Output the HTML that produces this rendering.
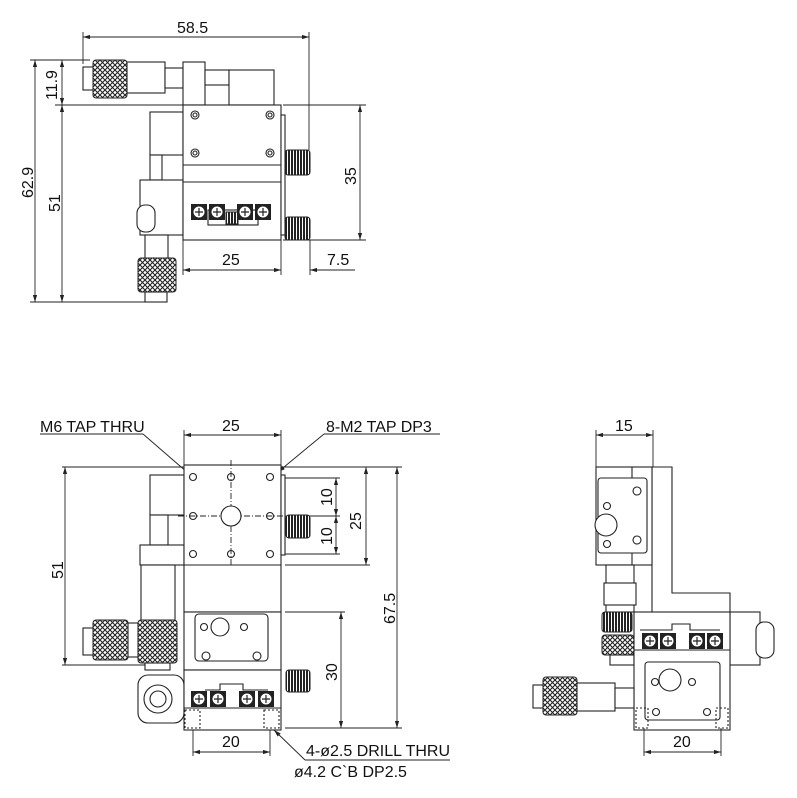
<!DOCTYPE html>
<html><head><meta charset="utf-8"><style>
html,body{margin:0;padding:0;background:#fff}
svg{display:block}
text{font-family:"Liberation Sans",sans-serif;font-size:16px;fill:#111}
.o{fill:none;stroke:#222;stroke-width:1.1}
.w{fill:#fff;stroke:#222;stroke-width:1.1}
.d{fill:none;stroke:#222;stroke-width:0.9}
.k{fill:url(#kn);stroke:#222;stroke-width:1}
.g{fill:url(#gr);stroke:#222;stroke-width:1}
</style></head><body>
<svg width="797" height="798" viewBox="0 0 797 798" xmlns="http://www.w3.org/2000/svg">
<defs>
<pattern id="kn" width="5" height="5" patternUnits="userSpaceOnUse"><rect width="5" height="5" fill="#fff"/><path d="M0 0L5 5M5 0L0 5" stroke="#222" stroke-width="1.1"/></pattern>
<pattern id="gr" width="3" height="3" patternUnits="userSpaceOnUse"><rect width="3" height="3" fill="#fff"/><rect width="2" height="3" fill="#222"/></pattern>
<marker id="a" viewBox="0 0 10 6" refX="10" refY="3" markerWidth="8" markerHeight="5" orient="auto-start-reverse"><path d="M0 0L10 3L0 6z" fill="#222"/></marker>
<g id="scr"><rect x="-8" y="-8" width="16" height="16" fill="#222"/><circle r="6" fill="#fff" stroke="#222"/><path d="M-4 0H4M0-4V4" stroke="#222" stroke-width="1.2"/></g>
</defs>

<!-- ============ TOP VIEW ============ -->
<line class="d" x1="83" y1="37" x2="309" y2="37" marker-start="url(#a)" marker-end="url(#a)"/>
<text x="177" y="33">58.5</text>
<line class="d" x1="83" y1="32" x2="83" y2="64"/>
<line class="d" x1="309" y1="32" x2="309" y2="150"/>
<line class="d" x1="30" y1="60" x2="90" y2="60"/>
<line class="d" x1="55" y1="105" x2="183" y2="105"/>
<line class="d" x1="30" y1="302" x2="145" y2="302"/>
<line class="d" x1="35" y1="60" x2="35" y2="302" marker-start="url(#a)" marker-end="url(#a)"/>
<line class="d" x1="62" y1="60" x2="62" y2="105" marker-start="url(#a)" marker-end="url(#a)"/>
<line class="d" x1="62" y1="105" x2="62" y2="302" marker-start="url(#a)" marker-end="url(#a)"/>
<text transform="translate(33,198) rotate(-90)">62.9</text>
<text transform="translate(57,100) rotate(-90)">11.9</text>
<text transform="translate(60,212) rotate(-90)">51</text>
<line class="d" x1="283" y1="105" x2="366" y2="105"/>
<line class="d" x1="283" y1="240" x2="366" y2="240"/>
<line class="d" x1="360" y1="105" x2="360" y2="240" marker-start="url(#a)" marker-end="url(#a)"/>
<text transform="translate(356,185) rotate(-90)">35</text>
<line class="d" x1="183" y1="240" x2="183" y2="275"/>
<line class="d" x1="281" y1="240" x2="281" y2="275"/>
<line class="d" x1="310" y1="240" x2="310" y2="275"/>
<line class="d" x1="183" y1="270" x2="281" y2="270" marker-start="url(#a)" marker-end="url(#a)"/>
<line class="d" x1="310" y1="270" x2="355" y2="270" marker-start="url(#a)"/>
<text x="222" y="265">25</text>
<text x="327" y="265">7.5</text>
<rect class="w" x="83" y="67" width="11" height="23"/>
<rect class="k" x="93" y="60" width="34" height="38" rx="3"/>
<rect class="w" x="127" y="62" width="38" height="31"/>
<rect class="w" x="165" y="68" width="18" height="20"/>
<rect class="w" x="183" y="62" width="22" height="43"/>
<rect class="w" x="205" y="70" width="24" height="15"/>
<rect class="w" x="229" y="70" width="45" height="35"/>
<rect class="w" x="150" y="112" width="33" height="43"/>
<rect class="w" x="150" y="155" width="12" height="25"/>
<rect class="w" x="140" y="180" width="43" height="55"/>
<rect class="w" x="137" y="205" width="18" height="27" rx="8"/>
<rect class="w" x="183" y="105" width="98" height="135"/>
<rect class="w" x="281" y="115" width="4" height="120"/>
<line class="o" x1="183" y1="165" x2="281" y2="165"/>
<line class="o" x1="183" y1="182" x2="281" y2="182"/>
<g class="o"><circle cx="195" cy="115" r="4"/><circle cx="195" cy="115" r="2"/><circle cx="270" cy="115" r="4"/><circle cx="270" cy="115" r="2"/><circle cx="195" cy="153" r="4"/><circle cx="195" cy="153" r="2"/><circle cx="270" cy="153" r="4"/><circle cx="270" cy="153" r="2"/></g>
<rect class="w" x="208" y="210" width="50" height="15"/>
<rect class="g" x="226" y="212" width="12" height="12"/>
<use href="#scr" x="199" y="212"/><use href="#scr" x="217" y="212"/><use href="#scr" x="245" y="212"/><use href="#scr" x="263" y="212"/>
<rect class="g" x="285" y="150" width="25" height="25" rx="3"/>
<rect class="g" x="285" y="217" width="25" height="23" rx="3"/>
<rect class="w" x="145" y="235" width="23" height="25"/>
<rect class="k" x="138" y="258" width="38" height="34" rx="3"/>
<rect class="w" x="145" y="292" width="22" height="10"/>

<!-- ============ FRONT VIEW ============ -->
<text x="40" y="432">M6 TAP THRU</text>
<line class="d" x1="40" y1="434" x2="143" y2="434"/>
<line class="d" x1="143" y1="434" x2="225" y2="505" marker-end="url(#a)"/>
<text x="326" y="432">8-M2 TAP DP3</text>
<line class="d" x1="324" y1="434" x2="440" y2="434"/>
<line class="d" x1="324" y1="434" x2="278" y2="472" marker-end="url(#a)"/>
<line class="d" x1="184" y1="430" x2="184" y2="467"/>
<line class="d" x1="281" y1="430" x2="281" y2="467"/>
<line class="d" x1="184" y1="435" x2="281" y2="435" marker-start="url(#a)" marker-end="url(#a)"/>
<text x="222" y="431">25</text>
<line class="d" x1="62" y1="467" x2="184" y2="467"/>
<line class="d" x1="62" y1="665" x2="145" y2="665"/>
<line class="d" x1="65" y1="467" x2="65" y2="665" marker-start="url(#a)" marker-end="url(#a)"/>
<text transform="translate(63,579) rotate(-90)">51</text>
<line class="d" x1="281" y1="467" x2="402" y2="467"/>
<line class="d" x1="285" y1="728" x2="402" y2="728"/>
<line class="d" x1="397" y1="467" x2="397" y2="728" marker-start="url(#a)" marker-end="url(#a)"/>
<text transform="translate(395,624) rotate(-90)">67.5</text>
<line class="d" x1="285" y1="565" x2="370" y2="565"/>
<line class="d" x1="366" y1="467" x2="366" y2="565" marker-start="url(#a)" marker-end="url(#a)"/>
<text transform="translate(361,530) rotate(-90)">25</text>
<line class="d" x1="285" y1="478" x2="340" y2="478"/>
<line class="d" x1="285" y1="516" x2="340" y2="516"/>
<line class="d" x1="285" y1="554" x2="340" y2="554"/>
<line class="d" x1="336" y1="478" x2="336" y2="516" marker-start="url(#a)" marker-end="url(#a)"/>
<line class="d" x1="336" y1="516" x2="336" y2="554" marker-start="url(#a)" marker-end="url(#a)"/>
<text transform="translate(332,506) rotate(-90)">10</text>
<text transform="translate(332,545) rotate(-90)">10</text>
<line class="d" x1="193" y1="554" x2="193" y2="598"/>
<line class="d" x1="231" y1="554" x2="231" y2="598"/>
<line class="d" x1="270" y1="554" x2="270" y2="598"/>
<line class="d" x1="193" y1="594" x2="231" y2="594" marker-start="url(#a)" marker-end="url(#a)"/>
<line class="d" x1="231" y1="594" x2="270" y2="594" marker-start="url(#a)" marker-end="url(#a)"/>
<text x="203" y="589">10</text><text x="241" y="589">10</text>
<line class="d" x1="285" y1="612" x2="345" y2="612"/>
<line class="d" x1="341" y1="612" x2="341" y2="728" marker-start="url(#a)" marker-end="url(#a)"/>
<text transform="translate(337,681) rotate(-90)">30</text>
<line class="d" x1="193" y1="728" x2="193" y2="756"/>
<line class="d" x1="270" y1="728" x2="270" y2="756"/>
<line class="d" x1="193" y1="752" x2="270" y2="752" marker-start="url(#a)" marker-end="url(#a)"/>
<text x="222" y="747">20</text>
<line class="d" x1="305" y1="760" x2="274" y2="730" marker-end="url(#a)"/>
<line class="d" x1="305" y1="760" x2="450" y2="760"/>
<text x="306" y="756">4-ø2.5 DRILL THRU</text>
<text x="294" y="777">ø4.2 C`B DP2.5</text>
<rect class="w" x="150" y="475" width="34" height="40"/>
<rect class="w" x="150" y="515" width="18" height="30"/>
<rect class="w" x="140" y="545" width="44" height="20"/>
<rect class="w" x="141" y="565" width="34" height="57"/>
<rect class="w" x="83" y="628" width="11" height="27"/>
<rect class="k" x="93" y="620" width="35" height="40" rx="3"/>
<rect class="w" x="128" y="623" width="10" height="34"/>
<rect class="k" x="138" y="620" width="39" height="43" rx="3"/>
<rect class="w" x="145" y="663" width="25" height="7"/>
<rect class="w" x="138" y="675" width="46" height="48" rx="10"/>
<circle class="o" cx="158" cy="699" r="14"/>
<circle class="o" cx="158" cy="699" r="8"/>
<rect class="w" x="184" y="465" width="97" height="147"/>
<rect class="w" x="281" y="475" width="4" height="80"/>
<line class="d" x1="231" y1="460" x2="231" y2="565" stroke-dasharray="6 2 1 2"/>
<line class="d" x1="178" y1="516" x2="290" y2="516" stroke-dasharray="6 2 1 2"/>
<line class="o" x1="184" y1="565" x2="281" y2="565"/>
<g class="o"><circle cx="193" cy="477" r="3.5"/><circle cx="231" cy="477" r="3.5"/><circle cx="270" cy="477" r="3.5"/><circle cx="193" cy="516" r="3.5"/><circle cx="270" cy="516" r="3.5"/><circle cx="193" cy="554" r="3.5"/><circle cx="231" cy="554" r="3.5"/><circle cx="270" cy="554" r="3.5"/></g>
<circle class="w" cx="231" cy="516" r="10"/>
<rect class="g" x="286" y="515" width="24" height="23" rx="3"/>
<rect class="w" x="184" y="612" width="97" height="58"/>
<rect class="w" x="195" y="614" width="73" height="47" rx="4"/>
<circle class="o" cx="204" cy="627" r="3.5"/><circle class="o" cx="244" cy="627" r="3.5"/>
<circle class="w" cx="220" cy="627" r="9"/>
<circle class="o" cx="206" cy="656" r="4"/><circle class="o" cx="257" cy="656" r="4"/>
<rect class="w" x="184" y="670" width="97" height="60"/>
<path class="o" d="M205 690H220V684H243V690H268"/>
<use href="#scr" x="199" y="699"/><use href="#scr" x="218" y="699"/><use href="#scr" x="247" y="699"/><use href="#scr" x="266" y="699"/>
<line class="o" x1="184" y1="708" x2="281" y2="708"/>
<rect class="o" x="185" y="710" width="15" height="18" stroke-dasharray="2 2"/>
<rect class="o" x="264" y="710" width="15" height="18" stroke-dasharray="2 2"/>
<rect class="g" x="286" y="670" width="24" height="22" rx="3"/>

<!-- ============ SIDE VIEW ============ -->
<line class="d" x1="596" y1="430" x2="596" y2="467"/>
<line class="d" x1="653" y1="430" x2="653" y2="467"/>
<line class="d" x1="596" y1="435" x2="653" y2="435" marker-start="url(#a)" marker-end="url(#a)"/>
<text x="615" y="431">15</text>
<path class="w" d="M652 467H672V593H730V612H652Z"/>
<rect class="w" x="596" y="467" width="56" height="98"/>
<line class="o" x1="632" y1="467" x2="632" y2="565"/>
<rect class="w" x="598" y="478" width="49" height="75" rx="3"/>
<circle class="o" cx="607" cy="506" r="3.5"/><circle class="o" cx="607" cy="544" r="3.5"/>
<circle class="w" cx="606" cy="525" r="11"/>
<circle class="o" cx="637" cy="491" r="4"/><circle class="o" cx="637" cy="540" r="4"/>
<rect class="w" x="606" y="565" width="28" height="47"/>
<rect class="w" x="604" y="583" width="32" height="22"/>
<rect class="g" x="602" y="612" width="30" height="20" rx="3"/>
<rect class="k" x="602" y="635" width="32" height="20" rx="3"/>
<rect class="w" x="610" y="655" width="24" height="10"/>
<rect class="w" x="730" y="612" width="30" height="53"/>
<rect class="w" x="756" y="622" width="18" height="36" rx="8"/>
<rect class="w" x="634" y="612" width="96" height="118"/>
<path class="o" d="M640 630H672V624H690V630H720"/>
<use href="#scr" x="650" y="641"/><use href="#scr" x="668" y="641"/><use href="#scr" x="697" y="641"/><use href="#scr" x="715" y="641"/>
<line class="o" x1="634" y1="650" x2="730" y2="650" stroke-width="2"/>
<rect class="w" x="645" y="662" width="75" height="58" rx="3"/>
<circle class="o" cx="655" cy="682" r="3.5"/><circle class="o" cx="692" cy="682" r="3.5"/>
<circle class="w" cx="670" cy="680" r="11"/>
<circle class="o" cx="656" cy="712" r="3.5"/><circle class="o" cx="707" cy="712" r="3.5"/>
<rect class="o" x="636" y="708" width="12" height="20" stroke-dasharray="2 2"/>
<rect class="o" x="716" y="708" width="12" height="20" stroke-dasharray="2 2"/>
<rect class="w" x="533" y="685" width="11" height="23"/>
<rect class="k" x="543" y="677" width="34" height="38" rx="3"/>
<rect class="w" x="577" y="683" width="38" height="28"/>
<rect class="w" x="615" y="688" width="19" height="20"/>
<line class="d" x1="644" y1="728" x2="644" y2="756"/>
<line class="d" x1="721" y1="728" x2="721" y2="756"/>
<line class="d" x1="644" y1="752" x2="721" y2="752" marker-start="url(#a)" marker-end="url(#a)"/>
<text x="673" y="747">20</text>
</svg>
</body></html>
